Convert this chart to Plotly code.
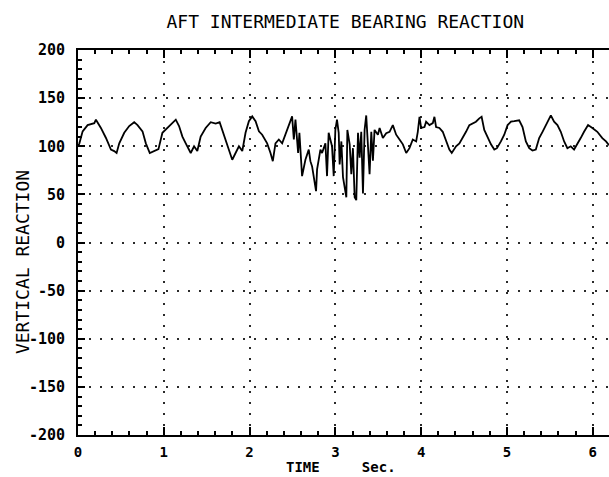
import plotly.graph_objects as go

# ---- data ----
time_s = [0.0, 0.016, 0.054, 0.112, 0.19, 0.209, 0.267, 0.326, 0.384, 0.422, 0.45,
          0.481, 0.539, 0.597, 0.655, 0.694, 0.752, 0.791, 0.837, 0.888, 0.938,
          0.984, 1.043, 1.101, 1.14, 1.178, 1.217, 1.256, 1.295, 1.314, 1.353,
          1.391, 1.43, 1.488, 1.547, 1.605, 1.651, 1.682, 1.721, 1.76, 1.798,
          1.837, 1.876, 1.915, 1.953, 1.992, 2.031, 2.07, 2.109, 2.147, 2.205,
          2.244, 2.271, 2.302, 2.341, 2.38, 2.419, 2.457, 2.496, 2.516, 2.535,
          2.566, 2.581, 2.612, 2.632, 2.651, 2.69, 2.709, 2.729, 2.748, 2.775,
          2.787, 2.826, 2.845, 2.884, 2.903, 2.922, 2.961, 2.981, 3.0, 3.019,
          3.039, 3.05, 3.07, 3.089, 3.128, 3.14, 3.167, 3.186, 3.205, 3.225,
          3.244, 3.264, 3.283, 3.302, 3.322, 3.341, 3.36, 3.38, 3.399, 3.419,
          3.438, 3.457, 3.496, 3.516, 3.554, 3.593, 3.632, 3.67, 3.709, 3.748,
          3.787, 3.826, 3.864, 3.903, 3.942, 3.961, 3.981, 4.0, 4.039, 4.058,
          4.097, 4.136, 4.155, 4.174, 4.213, 4.252, 4.291, 4.329, 4.357, 4.407,
          4.446, 4.484, 4.523, 4.562, 4.601, 4.639, 4.678, 4.705, 4.736, 4.775,
          4.814, 4.853, 4.884, 4.93, 4.969, 5.008, 5.047, 5.085, 5.143, 5.182,
          5.221, 5.26, 5.298, 5.337, 5.376, 5.415, 5.453, 5.492, 5.512, 5.55,
          5.589, 5.628, 5.667, 5.705, 5.744, 5.783, 5.822, 5.86, 5.899, 5.946,
          5.996, 6.054, 6.112, 6.155, 6.19]
reaction = [100, 103, 115.5, 122, 124, 127.6, 119, 108.6, 96.5, 95, 93,
            103, 114, 121, 125, 122, 115.5, 103, 93, 95, 97,
            114, 119, 124, 127.6, 121, 110, 103, 95, 93, 100,
            95, 110, 119, 125, 123.5, 125, 117, 107, 96.5, 86,
            93, 100, 95, 114, 126, 131, 126, 115.5, 112, 103,
            93, 84.5, 103, 107, 103, 112, 122, 131, 107, 127.6,
            93, 114, 69, 79, 86, 96.5, 84.5, 79, 69, 53.4,
            76, 96.5, 93, 103, 69, 114, 100, 69, 117, 127.6,
            114, 81, 105, 68, 47, 117, 102, 71, 98, 47,
            44, 114, 88, 115, 51, 117, 132, 95, 71, 115,
            85, 117, 112, 119, 108.5, 113.6, 115, 122, 112, 107,
            102, 93, 98, 107, 105, 115, 130.6, 119, 120, 125.5,
            122, 124, 130.6, 120, 119, 115, 105, 96.6, 93, 100,
            103, 108.5, 115, 122, 124, 125.5, 129, 130.6, 117, 108.5,
            102, 96.6, 98, 105, 112, 122, 125.5, 126, 127, 120,
            105, 98, 95.6, 96.6, 108.5, 115, 122, 129, 132, 125.5,
            122, 115, 105, 98, 100, 96.6, 102, 108.5, 115, 122,
            119, 115, 108.5, 105, 101]

x_tick_vals = [0, 1, 2, 3, 4, 5, 6]
x_tick_text = ["0", "1", "2", "3", "4", "5", "6"]
y_tick_vals = [200, 150, 100, 50, 0, -50, -100, -150, -200]
y_tick_text = ["200", "150", "100", "50", "0", "-50", "-100", "-150", "-200"]

FONT = "DejaVu Sans Mono"

fig = go.Figure()
fig.add_trace(go.Scatter(x=time_s, y=reaction, mode="lines",
                         line=dict(color="black", width=1.8),
                         showlegend=False, hoverinfo="skip"))

grid_common = dict(showgrid=True, gridcolor="#2a2a2a", gridwidth=2,
                   griddash="2px,9px", zeroline=False,
                   showline=True, linecolor="black", linewidth=2,
                   ticks="inside", tickcolor="black", tickwidth=2)

fig.update_xaxes(range=[0, 6.19], tickmode="array", tickvals=x_tick_vals,
                 ticktext=x_tick_text, ticklen=8, mirror="allticks",
                 ticklabelstandoff=3,
                 tickfont=dict(family=FONT, size=14, color="black", weight="bold"),
                 minor=dict(dtick=0.2, tick0=0, ticks="inside", ticklen=4,
                            tickcolor="black", tickwidth=2, showgrid=False),
                 **grid_common)
fig.update_yaxes(range=[-200, 200], tickmode="array", tickvals=y_tick_vals,
                 ticktext=y_tick_text, ticklen=7, mirror=False,
                 ticklabelstandoff=8,
                 tickfont=dict(family=FONT, size=15, color="black", weight="bold"),
                 minor=dict(dtick=10, tick0=0, ticks="inside", ticklen=4,
                            tickcolor="black", tickwidth=2, showgrid=False),
                 **grid_common)

fig.update_layout(
    width=609, height=477,
    margin=dict(l=78, r=0, t=50, b=42),
    paper_bgcolor="white", plot_bgcolor="white",
    title=dict(text="AFT INTERMEDIATE BEARING REACTION", xref="container",
               x=0.567, xanchor="center", yref="container", y=0.954,
               yanchor="middle",
               font=dict(family=FONT, size=18, color="black")),
    annotations=[
        dict(text="VERTICAL REACTION", xref="paper", yref="paper",
             x=-0.1055, y=0.449, textangle=-90, showarrow=False,
             xanchor="center", yanchor="middle",
             font=dict(family=FONT, size=18, color="black")),
        dict(text="TIME\u00a0\u00a0\u00a0\u00a0\u00a0Sec.", xref="paper", yref="paper",
             x=0.495, y=-0.107, showarrow=False, xanchor="center",
             yanchor="bottom", borderpad=0,
             font=dict(family=FONT, size=14, color="black", weight="bold")),
    ],
)

fig.write_html("out.html")
